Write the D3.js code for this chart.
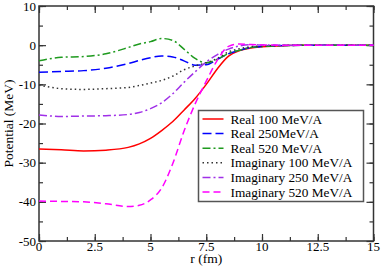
<!DOCTYPE html>
<html>
<head>
<meta charset="utf-8">
<script src="https://cdn.jsdelivr.net/npm/d3@7"></script>
<style>
  body { margin: 0; background: #fff; }
</style>
</head>
<body>
<svg id="chart" width="382" height="271"></svg>
<script>
// radial grid (fm) the curves were read on
var rValues = [0, 1, 2, 3, 4, 4.5, 5, 5.5, 6, 6.5, 7, 7.5, 8, 8.5, 9, 9.5, 10, 11, 12, 13, 14, 15];

// potentials (MeV)
var real100 = [-26.5, -26.7, -27.0, -26.8, -26.1, -25.2, -23.8, -21.8, -19.5, -16.6, -13.6, -10.0, -6.0, -2.8, -1.4, -0.7, -0.4, -0.12, -0.04, 0, 0, 0];
var real250 = [-6.9, -6.7, -6.5, -5.9, -4.7, -3.9, -3.2, -2.75, -3.0, -4.0, -5.1, -5.0, -3.6, -2.2, -1.3, -0.6, -0.35, -0.1, -0.02, 0, 0, 0];
var real520 = [-4.0, -3.1, -2.9, -2.2, -0.6, 0.3, 0.9, 1.7, 1.2, -1.0, -3.4, -4.5, -3.6, -2.1, -1.3, -0.6, -0.35, -0.1, -0.02, 0, 0, 0];
var imag100 = [-10.2, -11.1, -11.3, -11.1, -10.8, -10.3, -9.7, -9.0, -7.9, -6.3, -5.3, -4.5, -3.4, -1.7, -0.9, -0.4, -0.2, -0.05, 0, 0, 0, 0];
var imag250 = [-17.8, -18.2, -18.1, -18.0, -17.7, -17.2, -16.2, -14.7, -12.4, -9.5, -6.8, -4.3, -2.4, -1.0, -0.2, 0.1, 0.05, 0, 0, 0, 0, 0];
var imag520 = [-39.8, -39.9, -40.0, -40.5, -41.2, -40.9, -39.5, -36.5, -30.2, -22.0, -15.0, -9.2, -3.8, -0.3, 0.3, 0.15, 0.05, 0, 0, 0, 0, 0];

var seriesNames = ['Real 100 MeV/A', 'Real 250MeV/A', 'Real 520 MeV/A',
                   'Imaginary 100 MeV/A', 'Imaginary 250 MeV/A', 'Imaginary 520 MeV/A'];
var seriesValues = [real100, real250, real520, imag100, imag250, imag520];

var xTicks = [0, 2.5, 5, 7.5, 10, 12.5, 15];
var yTicks = [-50, -40, -30, -20, -10, 0, 10];

// line styles per series
var colors = ['#ff0000', '#0000ff', '#1e9a1e', '#333333', '#a030e8', '#ff00ff'];
var dashes = [null, '9,4', '8,3,2,3', '1.5,3', '8,3,2,3', '7,4'];

var fontFam = "'Liberation Serif'";

var svg = d3.select('#chart');
// plot box edges
var box = { left: 39, right: 373.5, top: 6, bottom: 241 };

var x = d3.scaleLinear().domain([0, 15]).range([box.left, box.right]);
var y = d3.scaleLinear().domain([-50, 10]).range([box.bottom, box.top]);

var fmt = function(d) { return String(d); };

// frame
svg.append('rect')
    .attr('x', box.left).attr('y', box.top)
    .attr('width', box.right - box.left).attr('height', box.bottom - box.top)
    .attr('fill', 'none').attr('stroke', '#333').attr('stroke-width', 1.5);

// inward ticks on all four sides
function ticks(axisFn, scale, major, minor, pos) {
    var g = svg.append('g').attr('transform', pos);
    g.append('g').call(axisFn(scale).tickValues(minor).tickSize(4).tickFormat(''));
    g.append('g').call(axisFn(scale).tickValues(major).tickSize(7).tickFormat(''));
    g.selectAll('.domain').remove();
    g.selectAll('line').attr('stroke', '#333').attr('stroke-width', 1.2);
    return g;
}
var xMinor = d3.range(0, 15.01, 1.25);
var yMinor = d3.range(-50, 10.01, 5);
ticks(d3.axisTop, x, xTicks, xMinor, 'translate(0,' + box.bottom + ')');
ticks(d3.axisBottom, x, xTicks, xMinor, 'translate(0,' + box.top + ')');
ticks(d3.axisRight, y, yTicks, yMinor, 'translate(' + box.left + ',0)');
ticks(d3.axisLeft, y, yTicks, yMinor, 'translate(' + box.right + ',0)');

// tick labels
svg.append('g').selectAll('text').data(xTicks).enter().append('text')
    .attr('x', function(d) { return x(d); })
    .attr('y', box.bottom + 9.5)
    .attr('text-anchor', 'middle')
    .style('font-family', fontFam)
    .style('font-size', '13px')
    .text(fmt);
svg.append('g').selectAll('text').data(yTicks).enter().append('text')
    .attr('x', box.left - 3)
    .attr('y', function(d) { return y(d) + 4.5; })
    .attr('text-anchor', 'end')
    .style('font-family', fontFam)
    .style('font-size', '13px')
    .text(fmt);

// axis titles
svg.append('text')
    .attr('x', (box.left + box.right) / 2).attr('y', 263)
    .attr('text-anchor', 'middle')
    .style('font-family', fontFam)
    .style('font-size', '13.5px')
    .text('r (fm)');
svg.append('text')
    .attr('transform', 'translate(13,' + (box.top + box.bottom) / 2 + ') rotate(-90)')
    .attr('text-anchor', 'middle')
    .style('font-family', fontFam)
    .style('font-size', '13.5px')
    .text('Potential (MeV)');

// curves
var line = d3.line()
    .x(function(d, i) { return x(rValues[i]); })
    .y(function(d) { return y(d); })
    .curve(d3.curveMonotoneX);

svg.append('g').selectAll('path').data(seriesValues).enter().append('path')
    .attr('d', line)
    .attr('fill', 'none')
    .attr('stroke', function(d, i) { return colors[i]; })
    .attr('stroke-width', 1.5)
    .attr('stroke-dasharray', function(d, i) { return dashes[i]; });

// legend
var lx = 198.5, ly = 110.5, lw = 165, lh = 91;
svg.append('rect')
    .attr('x', lx).attr('y', ly).attr('width', lw).attr('height', lh)
    .attr('fill', '#fff').attr('stroke', '#555').attr('stroke-width', 1.5);

var rows = svg.append('g').selectAll('g').data(seriesNames).enter().append('g')
    .attr('transform', function(d, i) { return 'translate(0,' + (119 + i * 14.6) + ')'; });
rows.append('line')
    .attr('x1', lx + 4).attr('x2', lx + 25)
    .attr('stroke', function(d, i) { return colors[i]; })
    .attr('stroke-width', 1.5)
    .attr('stroke-dasharray', function(d, i) { return dashes[i]; });
rows.append('text')
    .attr('x', lx + 32).attr('y', 4.5)
    .style('font-family', fontFam)
    .style('font-size', '13.3px')
    .text(function(d) { return d; });
</script>
</body>
</html>
